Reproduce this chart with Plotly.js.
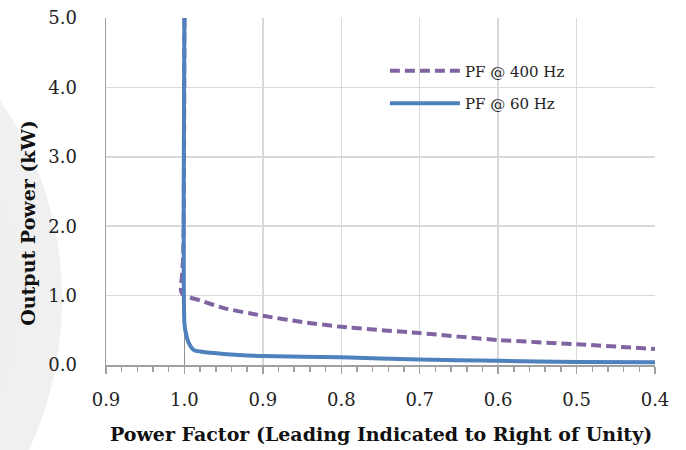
<!DOCTYPE html>
<html>
<head>
<meta charset="utf-8">
<script src="https://cdn.plot.ly/plotly-3.0.1.min.js"></script>
<style>
html,body{margin:0;padding:0;background:#fff;overflow:hidden;}
#wrap{position:relative;width:686px;height:450px;overflow:hidden;}
#vig{position:absolute;left:-470px;top:-10px;width:532px;height:620px;border-radius:50%;
background:radial-gradient(ellipse at 40% 50%, #ececec 0%, #f0f0f0 70%, #f4f4f4 100%);}
#chart{position:absolute;left:0;top:0;width:686px;height:450px;}
</style>
</head>
<body>
<div id="wrap"><div id="vig"></div><div id="chart"></div></div>
<script>
// x = offset from unity power factor: negative = lagging (left), positive = leading (right)
const pf400X = [0, -0.0005, -0.001, -0.0015, -0.003, -0.004, -0.0045, -0.003, 0, 0.02, 0.05, 0.1, 0.15, 0.2, 0.3, 0.4, 0.5, 0.6];
const pf400Y = [5.0, 3.0, 2.0, 1.6, 1.3, 1.18, 1.08, 1.03, 1.0, 0.93, 0.82, 0.71, 0.62, 0.55, 0.46, 0.36, 0.30, 0.23];
const pf60X = [0, 0, 0.002, 0.005, 0.009, 0.013, 0.02, 0.05, 0.1, 0.2, 0.3, 0.4, 0.5, 0.6];
const pf60Y = [5.0, 0.6, 0.45, 0.33, 0.25, 0.21, 0.195, 0.16, 0.13, 0.11, 0.08, 0.06, 0.045, 0.04];
const xTickVals = [-0.1, 0, 0.1, 0.2, 0.3, 0.4, 0.5, 0.6];
const xTickText = ['0.9', '1.0', '0.9', '0.8', '0.7', '0.6', '0.5', '0.4'];
const yTickVals = [0, 1, 2, 3, 4, 5];
const yTickText = ['0.0', '1.0', '2.0', '3.0', '4.0', '5.0'];
const seriesNames = ['PF @ 400 Hz', 'PF @ 60 Hz'];

const FONT = 'DejaVu Serif';
const traces = [
  {x: pf400X, y: pf400Y, name: seriesNames[0], legendgroup: 'a', mode: 'lines', type: 'scatter',
   line: {color: '#8064a2', width: 4, dash: '10px,5px', shape: 'spline', smoothing: 0.6}},
  {x: pf60X, y: pf60Y, name: seriesNames[1], legendgroup: 'b', mode: 'lines', type: 'scatter',
   line: {color: '#4f81bd', width: 4, shape: 'spline', smoothing: 0.6}}
];
const layout = {
  width: 686, height: 450,
  margin: {l: 106, r: 31, t: 18, b: 85},
  paper_bgcolor: 'rgba(0,0,0,0)', plot_bgcolor: '#ffffff',
  font: {family: FONT, color: '#222', size: 18},
  showlegend: true,
  legend: {x: 0.508, y: 0.895, xanchor: 'left', yanchor: 'top', bgcolor: 'rgba(0,0,0,0)',
           traceorder: 'grouped', tracegroupgap: 10,
           font: {family: FONT, size: 15, color: '#222'}, itemwidth: 70},
  xaxis: {range: [-0.1, 0.6], tickvals: xTickVals, ticktext: xTickText,
          showgrid: true, gridcolor: '#d9d9d9', gridwidth: 1.5,
          zeroline: true, zerolinecolor: '#909090', zerolinewidth: 1.5,
          showline: true, linecolor: '#a0a0a0', linewidth: 1.5,
          ticks: 'outside', ticklen: 7, tickcolor: '#a0a0a0', tickwidth: 1.5,
          minor: {dtick: 0.02, tick0: 0, ticks: 'outside', ticklen: 5, tickcolor: '#a0a0a0', tickwidth: 1.5, showgrid: false},
          ticklabelstandoff: 11, tickfont: {family: FONT, size: 18, color: '#222'}},
  yaxis: {range: [0, 5], tickvals: yTickVals, ticktext: yTickText,
          showgrid: true, gridcolor: '#d9d9d9', gridwidth: 1.5,
          zeroline: false, showline: true, linecolor: '#a0a0a0', linewidth: 1.5,
          ticks: '', ticklabelstandoff: 24, tickfont: {family: FONT, size: 18, color: '#222'}},
  annotations: [
    {text: '<b>Power Factor (Leading Indicated to Right of Unity)</b>', xref: 'paper', yref: 'paper',
     x: 0.5, y: -0.2, xanchor: 'center', yanchor: 'middle', showarrow: false,
     font: {family: FONT, size: 19, color: '#111'}},
    {text: '<b>Output Power (kW)</b>', xref: 'paper', yref: 'paper', textangle: -90,
     x: -0.142, y: 0.41, xanchor: 'center', yanchor: 'middle', showarrow: false,
     font: {family: FONT, size: 19, color: '#111'}}
  ]
};
Plotly.newPlot('chart', traces, layout, {displayModeBar: false, staticPlot: true});
</script>
</body>
</html>
